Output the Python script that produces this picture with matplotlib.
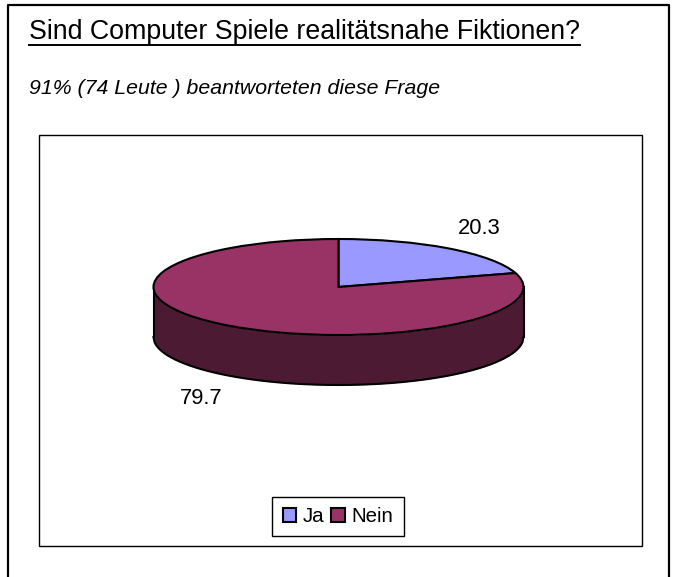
import numpy as np
import matplotlib
matplotlib.use("Agg")
import matplotlib.pyplot as plt
from matplotlib.patches import Rectangle

plt.rcParams['font.family'] = ['Liberation Sans', 'DejaVu Sans']

title = "Sind Computer Spiele realitätsnahe Fiktionen?"
subtitle = "91% (74 Leute ) beantworteten diese Frage"
categories = ["Ja", "Nein"]
values = [20.3, 79.7]
colors = ["#9999FF", "#993366"]
side_color = "#4C1A33"

W, H = 677, 577
fig = plt.figure(figsize=(W / 100, H / 100), dpi=100)

# overlay in pixel coords for the frames and the text
bg = fig.add_axes([0, 0, 1, 1])
bg.set_xlim(0, W)
bg.set_ylim(H, 0)
bg.axis("off")

# outer frame has no bottom edge, runs off the page
bg.plot([8, 8, 669, 669], [H, 5, 5, H], color="black", lw=1.6)
bg.add_patch(Rectangle((39, 135), 603, 411, fill=False, ec="black", lw=1.0))

bg.text(29, 32, title, fontsize=19.3, va="center", ha="left")
bg.plot([29, 580], [44.5, 44.5], color="black", lw=1.4)
bg.text(29, 89, subtitle, fontsize=15.35, style="italic", va="center", ha="left")

bg.text(479, 228, f"{values[0]:.1f}", fontsize=15.8, ha="center", va="center")
bg.text(201, 398, f"{values[1]:.1f}", fontsize=15.8, ha="center", va="center")

# pie squashed into an ellipse, depth is 50 px on a 48 px half height
a, b, depth = 185, 48, 50
cx, cy = 338.5, 287
ax = fig.add_axes([(cx - a) / W, 1 - (cy + b + depth) / H, 2 * a / W, (2 * b + depth) / H])
ax.patch.set_alpha(0)

x = np.linspace(-1, 1, 400)
lower = -np.sqrt(1 - x ** 2)
d = depth / b
ax.fill_between(x, lower, lower - d, color=side_color, lw=0, zorder=1)
ax.plot(x, lower - d, color="black", lw=1.5, zorder=2, clip_on=False)
ax.plot([-1, -1], [0, -d], color="black", lw=1.5, zorder=2, clip_on=False)
ax.plot([1, 1], [0, -d], color="black", lw=1.5, zorder=2, clip_on=False)

wedges, _ = ax.pie(values, colors=colors, startangle=90, counterclock=False,
                   wedgeprops={"edgecolor": "black", "linewidth": 1.5, "zorder": 3, "clip_on": False})
ax.set_aspect("auto")
ax.set_xlim(-1, 1)
ax.set_ylim(-1 - d, 1)

leg = ax.legend(wedges, categories, ncol=2, loc="center",
                bbox_to_anchor=(338 / W, 1 - 516.5 / H), bbox_transform=fig.transFigure,
                fontsize=14.8, frameon=True, fancybox=False, edgecolor="black", framealpha=1,
                handlelength=0.68, handleheight=0.68, handletextpad=0.3, columnspacing=0.35,
                borderpad=0.5, borderaxespad=0)
leg.get_frame().set_linewidth(1.0)

fig.savefig("out.png", dpi=100)
